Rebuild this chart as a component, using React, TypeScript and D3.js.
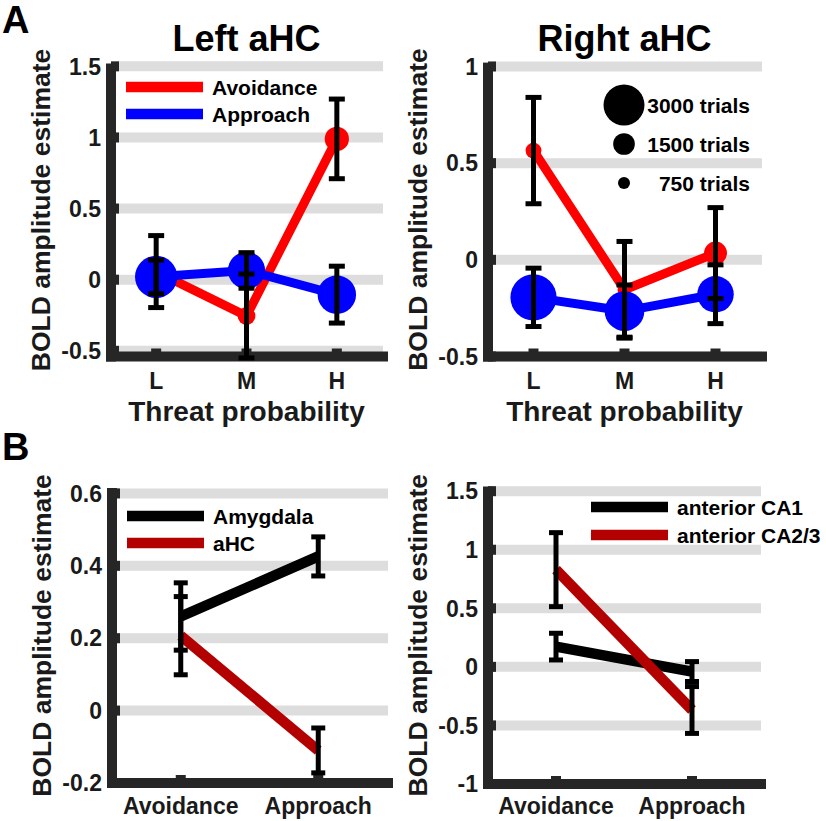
import React from "react";
import * as d3 from "d3";

// ---------- DATA ----------
const threatLevels = ["L", "M", "H"];

const leftAvoidMean = [0.057, -0.255, 0.99];
const leftAvoidErr = [0.253, 0.295, 0.28];
const leftAvoidTrials = [1200, 1200, 1700];
const leftApproachMean = [0.02, 0.065, -0.105];
const leftApproachErr = [0.118, 0.125, 0.2];
const leftApproachTrials = [3100, 2700, 2800];

const rightAvoidMean = [0.565, -0.155, 0.035];
const rightAvoidErr = [0.275, 0.25, 0.235];
const rightAvoidTrials = [1050, 900, 1600];
const rightApproachMean = [-0.194, -0.265, -0.178];
const rightApproachErr = [0.151, 0.135, 0.152];
const rightApproachTrials = [3400, 2900, 2650];

const legendTrials = [3000, 1500, 750];
const legendTrialLabels = ["3000 trials", "1500 trials", "750 trials"];

const choiceCategories = ["Avoidance", "Approach"];
const amygdalaMean = [0.26, 0.426];
const amygdalaErr = [0.093, 0.054];
const aHCMean = [0.207, -0.11];
const aHCErr = [0.108, 0.062];
const ca1Mean = [0.173, -0.04];
const ca1Err = [0.114, 0.085];
const ca23Mean = [0.83, -0.368];
const ca23Err = [0.316, 0.2];

const aLeftTicks = [-0.5, 0, 0.5, 1, 1.5];
const aLeftTickLabels = ["-0.5", "0", "0.5", "1", "1.5"];
const aRightTicks = [-0.5, 0, 0.5, 1];
const aRightTickLabels = ["-0.5", "0", "0.5", "1"];
const bLeftTicks = [-0.2, 0, 0.2, 0.4, 0.6];
const bLeftTickLabels = ["-0.2", "0", "0.2", "0.4", "0.6"];
const bRightTicks = [-1, -0.5, 0, 0.5, 1, 1.5];
const bRightTickLabels = ["-1", "-0.5", "0", "0.5", "1", "1.5"];

// ---------- STYLE ----------
const FONT = "'Liberation Sans', Arial, Helvetica, sans-serif";
const AXIS = "#262626";
const GRID = "#dddddd";
const RED = "#ff0000";
const BLUE = "#0000ff";
const DARKRED = "#b30000";
const BLACK = "#000000";
const TEXT = "#1a1a1a";

const rScale = d3.scaleLinear().domain([750, 3000]).range([6, 20.5]);

type Series = {
  mean: number[];
  err: number[];
  color: string;
  width: number;
  trials?: number[];
  name: string;
};

type LegendCfg =
  | { kind: "line"; x: number; y: number; gap: number }
  | { kind: "size"; cx: number; textRight: number; ys: number[] };

type PanelProps = {
  x0: number;
  x1: number;
  yBottom: number;
  yTop: number;
  yDomain: [number, number];
  categories: string[];
  yTicks: number[];
  yTickLabels: string[];
  title?: string;
  xLabel?: string;
  series: Series[];
  legend: LegendCfg;
  capWidth: number;
  xTickBaseline: number;
  xLabelBaseline?: number;
};

function Panel(p: PanelProps) {
  const n = p.categories.length;
  const x = d3.scaleLinear().domain([0.5, n + 0.5]).range([p.x0, p.x1]);
  const y = d3.scaleLinear().domain(p.yDomain).range([p.yBottom, p.yTop]);
  const line = d3
    .line<number>()
    .x((_, i) => x(i + 1))
    .y((d) => y(d));
  const cx = (p.x0 + p.x1) / 2;
  const cy = (p.yTop + p.yBottom) / 2;
  return (
    <g>
      {p.yTicks.map((t) => (
        <line key={"g" + t} x1={p.x0 + 5} x2={p.x1 + 1} y1={y(t)} y2={y(t)} stroke={GRID} strokeWidth={10} />
      ))}
      <rect x={p.x0 - 5} y={p.yTop} width={10} height={p.yBottom - p.yTop + 5} fill={AXIS} />
      <rect x={p.x0 - 5} y={p.yBottom - 5} width={p.x1 - p.x0 + 11} height={10} fill={AXIS} />
      {p.yTicks.map((t) => (
        <rect key={"yt" + t} x={p.x0} y={y(t) - 5} width={8} height={10} fill={AXIS} />
      ))}
      {p.categories.map((c, i) => (
        <rect key={"xt" + c} x={x(i + 1) - 5} y={p.yBottom - 8} width={10} height={8} fill={AXIS} />
      ))}
      {p.yTicks.map((t, i) => (
        <text key={"yl" + t} x={p.x0 - 10} y={y(t)} dy="0.36em" textAnchor="end" fontSize={23} fontWeight="bold" fill={TEXT}>
          {p.yTickLabels[i]}
        </text>
      ))}
      {p.categories.map((c, i) => (
        <text key={"xl" + c} x={x(i + 1)} y={p.xTickBaseline} textAnchor="middle" fontSize={23} fontWeight="bold" fill={TEXT}>
          {c}
        </text>
      ))}
      <text
        transform={`translate(${p.x0 - 71},${cy}) rotate(-90)`}
        textAnchor="middle"
        dy="0.36em"
        fontSize={26.5}
        fontWeight="bold"
        fill={TEXT}
      >
        BOLD amplitude estimate
      </text>
      {p.xLabel && (
        <text x={cx} y={p.xLabelBaseline} textAnchor="middle" fontSize={28} fontWeight="bold" fill={TEXT}>
          {p.xLabel}
        </text>
      )}
      {p.title && (
        <text x={cx} y={51} textAnchor="middle" fontSize={36} fontWeight="bold" fill="#000">
          {p.title}
        </text>
      )}
      {p.series.map((s) => (
        <g key={"s" + s.name}>
          <path d={line(s.mean) || ""} fill="none" stroke={s.color} strokeWidth={s.width} strokeLinejoin="round" />
          {s.trials &&
            s.mean.map((m, i) => <circle key={i} cx={x(i + 1)} cy={y(m)} r={rScale(s.trials![i])} fill={s.color} />)}
        </g>
      ))}
      {p.series.map((s) =>
        s.mean.map((m, i) => {
          const xx = x(i + 1);
          const yHi = y(m + s.err[i]);
          const yLo = y(m - s.err[i]);
          const hw = p.capWidth / 2;
          return (
            <g key={"e" + s.name + i}>
              <line x1={xx} x2={xx} y1={yHi} y2={yLo} stroke={BLACK} strokeWidth={5} />
              <line x1={xx - hw} x2={xx + hw} y1={yHi} y2={yHi} stroke={BLACK} strokeWidth={5} />
              <line x1={xx - hw} x2={xx + hw} y1={yLo} y2={yLo} stroke={BLACK} strokeWidth={5} />
            </g>
          );
        })
      )}
      {p.legend.kind === "line" &&
        p.series.map((s, i) => {
          const lg = p.legend as { kind: "line"; x: number; y: number; gap: number };
          const ly = lg.y + i * lg.gap;
          return (
            <g key={"lg" + s.name}>
              <line x1={lg.x} x2={lg.x + 77} y1={ly} y2={ly} stroke={s.color} strokeWidth={10.5} />
              <text x={lg.x + 86} y={ly} dy="0.36em" fontSize={21} fontWeight="bold" fill="#000">
                {s.name}
              </text>
            </g>
          );
        })}
      {p.legend.kind === "size" &&
        legendTrials.map((t, i) => {
          const lg = p.legend as { kind: "size"; cx: number; textRight: number; ys: number[] };
          return (
            <g key={"sz" + t}>
              <circle cx={lg.cx} cy={lg.ys[i]} r={rScale(t)} fill="#000" />
              <text x={lg.textRight} y={lg.ys[i]} dy="0.36em" textAnchor="end" fontSize={21} fontWeight="bold" fill="#000">
                {legendTrialLabels[i]}
              </text>
            </g>
          );
        })}
    </g>
  );
}

export default function App() {
  return (
    <svg
      width={826}
      height={821}
      viewBox="0 0 826 821"
      style={{ position: "absolute", left: 0, top: 0, background: "#fff" }}
      fontFamily={FONT}
    >
      <rect x={0} y={0} width={826} height={821} fill="#fff" />
      <text x={2} y={33} fontSize={38} fontWeight="bold" fill="#000">A</text>
      <text x={2} y={460} fontSize={38} fontWeight="bold" fill="#000">B</text>

      <Panel
        x0={111}
        x1={382}
        yBottom={356.5}
        yTop={63.5}
        yDomain={[-0.54, 1.52]}
        categories={threatLevels}
        yTicks={aLeftTicks}
        yTickLabels={aLeftTickLabels}
        title="Left aHC"
        xLabel="Threat probability"
        xLabelBaseline={421}
        xTickBaseline={389}
        capWidth={16}
        series={[
          { name: "Avoidance", mean: leftAvoidMean, err: leftAvoidErr, trials: leftAvoidTrials, color: RED, width: 9 },
          { name: "Approach", mean: leftApproachMean, err: leftApproachErr, trials: leftApproachTrials, color: BLUE, width: 9 },
        ]}
        legend={{ kind: "line", x: 126, y: 87, gap: 27 }}
      />
      <Panel
        x0={488}
        x1={761}
        yBottom={356.5}
        yTop={62.6}
        yDomain={[-0.5, 1.02]}
        categories={threatLevels}
        yTicks={aRightTicks}
        yTickLabels={aRightTickLabels}
        title="Right aHC"
        xLabel="Threat probability"
        xLabelBaseline={421}
        xTickBaseline={389}
        capWidth={16}
        series={[
          { name: "Avoidance", mean: rightAvoidMean, err: rightAvoidErr, trials: rightAvoidTrials, color: RED, width: 9 },
          { name: "Approach", mean: rightApproachMean, err: rightApproachErr, trials: rightApproachTrials, color: BLUE, width: 9 },
        ]}
        legend={{ kind: "size", cx: 624, textRight: 750, ys: [105, 144, 183] }}
      />
      <Panel
        x0={112}
        x1={387}
        yBottom={783}
        yTop={488}
        yDomain={[-0.2, 0.615]}
        categories={choiceCategories}
        yTicks={bLeftTicks}
        yTickLabels={bLeftTickLabels}
        xTickBaseline={814}
        capWidth={14}
        series={[
          { name: "Amygdala", mean: amygdalaMean, err: amygdalaErr, color: BLACK, width: 10.5 },
          { name: "aHC", mean: aHCMean, err: aHCErr, color: DARKRED, width: 10.5 },
        ]}
        legend={{ kind: "line", x: 127, y: 516, gap: 27 }}
      />
      <Panel
        x0={488}
        x1={760}
        yBottom={784}
        yTop={486.5}
        yDomain={[-1, 1.54]}
        categories={choiceCategories}
        yTicks={bRightTicks}
        yTickLabels={bRightTickLabels}
        xTickBaseline={814}
        capWidth={14}
        series={[
          { name: "anterior CA1", mean: ca1Mean, err: ca1Err, color: BLACK, width: 10.5 },
          { name: "anterior CA2/3", mean: ca23Mean, err: ca23Err, color: DARKRED, width: 10.5 },
        ]}
        legend={{ kind: "line", x: 591, y: 507, gap: 28 }}
      />
    </svg>
  );
}
